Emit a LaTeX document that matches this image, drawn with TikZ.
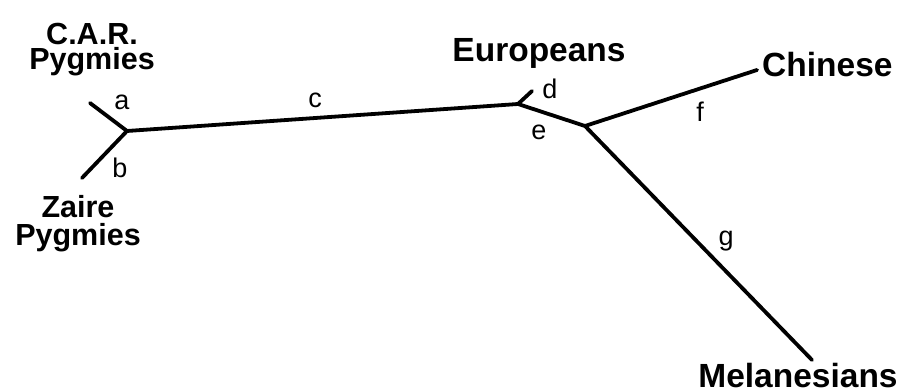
\documentclass[tikz,border=0pt]{standalone}
\usepackage{fontspec}
\setmainfont{Liberation Sans}
\usetikzlibrary{positioning}

\begin{document}
\begin{tikzpicture}[
        x=1pt, y=-1pt,
        branch/.style={draw=black, line width=3.8pt, line cap=round, line join=round},
        taxon/.style={font=\fontsize{33.5}{28}\selectfont\bfseries, align=center, inner sep=0pt, anchor=base},
        edge/.style={font=\fontsize{27}{27}\selectfont, inner sep=0pt, anchor=base}
    ]
        \useasboundingbox (0,0) rectangle (899,390);

        % tree vertices
        \coordinate (jA) at (127,131);
        \coordinate (jB) at (518,104);
        \coordinate (jC) at (585,126);
        \coordinate (car) at (90,103);
        \coordinate (zaire) at (82,178);
        \coordinate (eur) at (532,91);
        \coordinate (chi) at (757,70);
        \coordinate (mel) at (812,360);

        \draw[branch] (car) -- (jA) -- (zaire);
        \draw[branch] (jA) -- (jB) -- (jC) -- (mel);
        \draw[branch] (jB) -- (eur);
        \draw[branch] (jC) -- (chi);

        % taxa (base = last line)
        \node[taxon, font=\fontsize{30.5}{25}\selectfont\bfseries] (carT) at (92,70) {C.A.R.\\Pygmies};
        \node[taxon, font=\fontsize{30.5}{28}\selectfont\bfseries] (zaireT) at (78,245) {Zaire\\Pygmies};
        \node[taxon] (eurT) at (539,62) {Europeans};
        \node[taxon, anchor=base west] (chiT) at (762,77) {Chinese};
        \node[taxon] (melT) at (798,387) {Melanesians};

        % branch labels
        \node[edge] (la) at (122,110) {a};
        \node[edge] (lb) at (120,178) {b};
        \node[edge] (lc) at (315,108) {c};
        \node[edge] (ld) at (550,99) {d};
        \node[edge] (le) at (539,140) {e};
        \node[edge] (lf) at (700,122) {f};
        \node[edge] (lg) at (726,245) {g};
    \end{tikzpicture}
\end{document}
